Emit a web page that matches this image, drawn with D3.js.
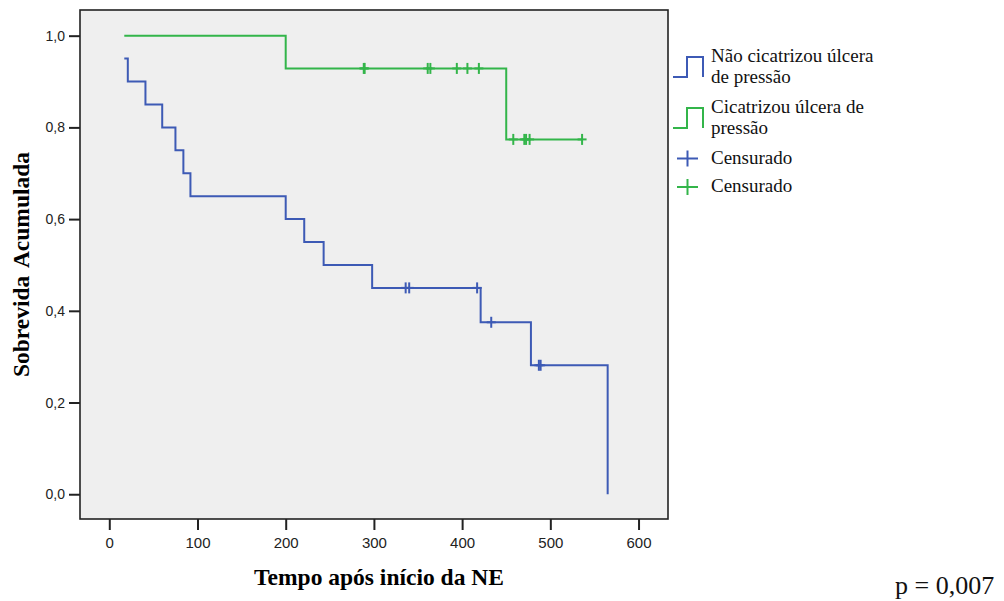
<!DOCTYPE html>
<html>
<head>
<meta charset="utf-8">
<script src="https://cdn.jsdelivr.net/npm/d3@7"></script>
<style>
  body { margin: 0; background: #fff; }
  svg { display: block; }
</style>
</head>
<body>
<svg id="chart" width="1004" height="601"></svg>
<script>
// Kaplan-Meier data
const groupNames = ["Não cicatrizou úlcera de pressão", "Cicatrizou úlcera de pressão"];
const groupColors = ["#3d5ab5", "#33b54a"];

// group 1: not healed
const blueTimes = [17, 21, 41, 60, 75, 84, 92, 200, 221, 243, 298, 421, 478, 565];
const blueSurv = [0.95, 0.90, 0.85, 0.80, 0.75, 0.70, 0.65, 0.60, 0.55, 0.50, 0.45, 0.375, 0.28125, 0];
const blueCensTimes = [336, 340, 417, 433, 487, 489];
const blueCensSurv = [0.45, 0.45, 0.45, 0.375, 0.28125, 0.28125];

// group 2: healed
const greenTimes = [17, 200, 450, 536];
const greenSurv = [1, 0.9286, 0.7738, 0.7738];
const greenCensTimes = [288.5, 289.5, 361, 364, 394, 406, 419, 458, 470.5, 472.5, 476.5, 536];
const greenCensSurv = [0.9286, 0.9286, 0.9286, 0.9286, 0.9286, 0.9286, 0.9286, 0.7738, 0.7738, 0.7738, 0.7738, 0.7738];

const xTicks = [0, 100, 200, 300, 400, 500, 600];
const yTicks = [0, 0.2, 0.4, 0.6, 0.8, 1.0];

const plot = {left: 80, top: 10, right: 668, bottom: 519};

const svg = d3.select("#chart");

const x = d3.scaleLinear()
    .domain([-33.2, 633.4])
    .range([plot.left, plot.right]);

const y = d3.scaleLinear()
    .domain([-0.054, 1.056])
    .range([plot.bottom, plot.top]);

// plot background
svg.append("rect")
    .attr("x", plot.left)
    .attr("y", plot.top)
    .attr("width", plot.right - plot.left)
    .attr("height", plot.bottom - plot.top)
    .attr("fill", "#efefef")
    .attr("stroke", "#222")
    .attr("stroke-width", 1.6);

// axes
const fmt = d3.format(".1f");
const yAxis = svg.append("g")
    .attr("transform", `translate(${plot.left},0)`)
    .call(d3.axisLeft(y).tickValues(yTicks).tickSize(11).tickPadding(4)
        .tickFormat(d => fmt(d).replace(".", ",")));
yAxis.select(".domain").remove();
yAxis.selectAll("line").attr("stroke", "#222").attr("stroke-width", 2);
yAxis.selectAll("text")
    .style("font-family", "Liberation Sans, Arial, sans-serif")
    .style("font-size", "14px")
    .attr("fill", "#222");

const xAxis = svg.append("g")
    .attr("transform", `translate(0,${plot.bottom})`)
    .call(d3.axisBottom(x).tickValues(xTicks).tickSize(11).tickPadding(7));
xAxis.select(".domain").remove();
xAxis.selectAll("line").attr("stroke", "#222").attr("stroke-width", 2);
xAxis.selectAll("text")
    .style("font-family", "Liberation Sans, Arial, sans-serif")
    .style("font-size", "15px")
    .attr("fill", "#222");

// axis titles
svg.append("text")
    .attr("x", 379)
    .attr("y", 585)
    .attr("text-anchor", "middle")
    .style("font-family", "Liberation Serif, Times New Roman, serif")
    .style("font-weight", "bold")
    .style("font-size", "23.5px")
    .text("Tempo após início da NE");

svg.append("text")
    .attr("transform", `translate(29,${(plot.top + plot.bottom) / 2}) rotate(-90)`)
    .attr("text-anchor", "middle")
    .style("font-family", "Liberation Serif, Times New Roman, serif")
    .style("font-weight", "bold")
    .style("font-size", "23.5px")
    .style("word-spacing", "3px")
    .text("Sobrevida Acumulada");

// survival step lines
const line = d3.line()
    .x(d => x(d[0]))
    .y(d => y(d[1]))
    .curve(d3.curveStepAfter);

const curves = [
    {times: blueTimes, surv: blueSurv, ct: blueCensTimes, cs: blueCensSurv, color: groupColors[0]},
    {times: greenTimes, surv: greenSurv, ct: greenCensTimes, cs: greenCensSurv, color: groupColors[1]}
];

curves.forEach(c => {
    svg.append("path")
        .datum(c.times.map((t, i) => [t, c.surv[i]]))
        .attr("fill", "none")
        .attr("stroke", c.color)
        .attr("stroke-width", 2)
        .attr("d", line);

    const marks = svg.append("g");
    c.ct.forEach((t, i) => {
        const cx = x(t), cy = y(c.cs[i]);
        marks.append("line")
            .attr("x1", cx).attr("x2", cx)
            .attr("y1", cy - 5.5).attr("y2", cy + 5.5)
            .attr("stroke", c.color).attr("stroke-width", 2);
        marks.append("line")
            .attr("x1", cx - 4.5).attr("x2", cx + 4.5)
            .attr("y1", cy).attr("y2", cy)
            .attr("stroke", c.color).attr("stroke-width", 2);
    });
});

// legend
const legend = svg.append("g");
const legFont = "Liberation Serif, Times New Roman, serif";
const legendLines = [
    ["Não cicatrizou úlcera", "de pressão"],
    ["Cicatrizou úlcera de", "pressão"]
];
const legTop = [57, 108];
legendLines.forEach((lines, i) => {
    const t = legTop[i], b = t + 20;
    legend.append("path")
        .attr("d", `M673,${b}H687V${t}H703V${b}`)
        .attr("fill", "none")
        .attr("stroke", groupColors[i])
        .attr("stroke-width", 2);
    lines.forEach((s, j) => {
        legend.append("text")
            .attr("x", 711)
            .attr("y", t + 5 + j * 21)
            .style("font-family", legFont)
            .style("font-size", "19px")
            .attr("fill", "#111")
            .text(s);
    });
});

const censY = [158.5, 187];
censY.forEach((cy, i) => {
    legend.append("line")
        .attr("x1", 677).attr("x2", 698).attr("y1", cy).attr("y2", cy)
        .attr("stroke", groupColors[i]).attr("stroke-width", 2);
    legend.append("line")
        .attr("x1", 687.5).attr("x2", 687.5).attr("y1", cy - 8).attr("y2", cy + 8)
        .attr("stroke", groupColors[i]).attr("stroke-width", 2);
    legend.append("text")
        .attr("x", 711)
        .attr("y", cy + 5)
        .style("font-family", legFont)
        .style("font-size", "19px")
        .attr("fill", "#111")
        .text("Censurado");
});

// p value
svg.append("text")
    .attr("x", 895)
    .attr("y", 594)
    .style("font-family", legFont)
    .style("font-size", "26px")
    .attr("fill", "#111")
    .text("p = 0,007");
</script>
</body>
</html>
